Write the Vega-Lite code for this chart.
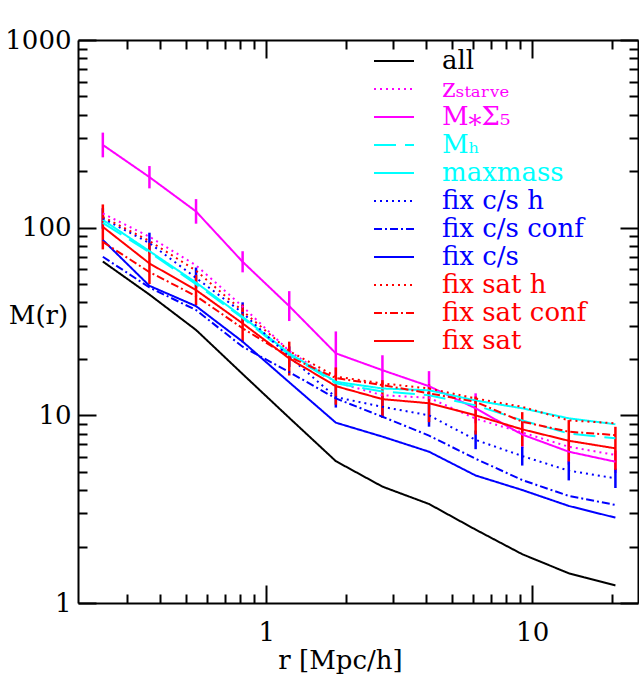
{
"$schema":"https://vega.github.io/schema/vega-lite/v6.json",
"width":560,"height":563,
"autosize":{"type":"none"},
"padding":{"left":78,"top":40,"right":1,"bottom":74},
"background":"white",
"config":{"view":{"stroke":null},"font":"DejaVu Serif",
"axis":{"grid":false,"domainColor":"black","domainWidth":2,"tickColor":"black","tickWidth":2,"labelColor":"black","titleColor":"black","labelFont":"DejaVu Serif","titleFont":"DejaVu Serif","labelFontSize":26,"titleFontSize":26,"titleFontWeight":"normal","labelFlush":false,"labelOverlap":false}},
"datasets":{
"curves":[
{"series":"all","r":0.243,"M":66},{"series":"all","r":0.3638,"M":44},{"series":"all","r":0.5446,"M":28.5},{"series":"all","r":0.8152,"M":16.6},{"series":"all","r":1.2204,"M":9.7},{"series":"all","r":1.827,"M":5.7},{"series":"all","r":2.735,"M":4.17},{"series":"all","r":4.094,"M":3.37},{"series":"all","r":6.129,"M":2.46},{"series":"all","r":9.175,"M":1.82},{"series":"all","r":13.73,"M":1.44},{"series":"all","r":20.56,"M":1.24},
{"series":"z_starve","r":0.243,"M":119},{"series":"z_starve","r":0.3638,"M":89.5},{"series":"z_starve","r":0.5446,"M":63},{"series":"z_starve","r":0.8152,"M":38},{"series":"z_starve","r":1.2204,"M":22},{"series":"z_starve","r":1.827,"M":15},{"series":"z_starve","r":2.735,"M":12.8},{"series":"z_starve","r":4.094,"M":12.4},{"series":"z_starve","r":6.129,"M":9.6},{"series":"z_starve","r":9.175,"M":8.1},{"series":"z_starve","r":13.73,"M":6.8},{"series":"z_starve","r":20.56,"M":6.15},
{"series":"MSigma5","r":0.243,"M":276},{"series":"MSigma5","r":0.3638,"M":186},{"series":"MSigma5","r":0.5446,"M":122},{"series":"MSigma5","r":0.8152,"M":65.8},{"series":"MSigma5","r":1.2204,"M":38.2},{"series":"MSigma5","r":1.827,"M":21.4},{"series":"MSigma5","r":2.735,"M":17.4},{"series":"MSigma5","r":4.094,"M":14.3},{"series":"MSigma5","r":6.129,"M":10.9},{"series":"MSigma5","r":9.175,"M":7.9},{"series":"MSigma5","r":13.73,"M":6.4},{"series":"MSigma5","r":20.56,"M":5.66},
{"series":"M_h","r":0.243,"M":106},{"series":"M_h","r":0.3638,"M":74},{"series":"M_h","r":0.5446,"M":50},{"series":"M_h","r":0.8152,"M":33},{"series":"M_h","r":1.2204,"M":21},{"series":"M_h","r":1.827,"M":14.8},{"series":"M_h","r":2.735,"M":13.4},{"series":"M_h","r":4.094,"M":12.8},{"series":"M_h","r":6.129,"M":11.3},{"series":"M_h","r":9.175,"M":9.4},{"series":"M_h","r":13.73,"M":8.0},{"series":"M_h","r":20.56,"M":7.54},
{"series":"maxmass","r":0.243,"M":110},{"series":"maxmass","r":0.3638,"M":75},{"series":"maxmass","r":0.5446,"M":51},{"series":"maxmass","r":0.8152,"M":33.5},{"series":"maxmass","r":1.2204,"M":21.4},{"series":"maxmass","r":1.827,"M":15.1},{"series":"maxmass","r":2.735,"M":13.9},{"series":"maxmass","r":4.094,"M":13.6},{"series":"maxmass","r":6.129,"M":12.0},{"series":"maxmass","r":9.175,"M":10.9},{"series":"maxmass","r":13.73,"M":9.64},{"series":"maxmass","r":20.56,"M":8.96},
{"series":"fix c/s h","r":0.243,"M":112},{"series":"fix c/s h","r":0.3638,"M":82.8},{"series":"fix c/s h","r":0.5446,"M":54},{"series":"fix c/s h","r":0.8152,"M":35.2},{"series":"fix c/s h","r":1.2204,"M":20.5},{"series":"fix c/s h","r":1.827,"M":12.5},{"series":"fix c/s h","r":2.735,"M":11.1},{"series":"fix c/s h","r":4.094,"M":10},{"series":"fix c/s h","r":6.129,"M":7.4},{"series":"fix c/s h","r":9.175,"M":6.07},{"series":"fix c/s h","r":13.73,"M":5.07},{"series":"fix c/s h","r":20.56,"M":4.62},
{"series":"fix c/s conf","r":0.243,"M":70},{"series":"fix c/s conf","r":0.3638,"M":48},{"series":"fix c/s conf","r":0.5446,"M":36.4},{"series":"fix c/s conf","r":0.8152,"M":23.2},{"series":"fix c/s conf","r":1.2204,"M":17},{"series":"fix c/s conf","r":1.827,"M":12.3},{"series":"fix c/s conf","r":2.735,"M":9.83},{"series":"fix c/s conf","r":4.094,"M":7.8},{"series":"fix c/s conf","r":6.129,"M":5.87},{"series":"fix c/s conf","r":9.175,"M":4.52},{"series":"fix c/s conf","r":13.73,"M":3.72},{"series":"fix c/s conf","r":20.56,"M":3.33},
{"series":"fix c/s","r":0.243,"M":86},{"series":"fix c/s","r":0.3638,"M":49},{"series":"fix c/s","r":0.5446,"M":38.2},{"series":"fix c/s","r":0.8152,"M":24.7},{"series":"fix c/s","r":1.2204,"M":15},{"series":"fix c/s","r":1.827,"M":9.14},{"series":"fix c/s","r":2.735,"M":7.7},{"series":"fix c/s","r":4.094,"M":6.4},{"series":"fix c/s","r":6.129,"M":4.78},{"series":"fix c/s","r":9.175,"M":4.0},{"series":"fix c/s","r":13.73,"M":3.29},{"series":"fix c/s","r":20.56,"M":2.85},
{"series":"fix sat h","r":0.243,"M":114},{"series":"fix sat h","r":0.3638,"M":85},{"series":"fix sat h","r":0.5446,"M":59},{"series":"fix sat h","r":0.8152,"M":36},{"series":"fix sat h","r":1.2204,"M":22},{"series":"fix sat h","r":1.827,"M":16.1},{"series":"fix sat h","r":2.735,"M":14.8},{"series":"fix sat h","r":4.094,"M":13.9},{"series":"fix sat h","r":6.129,"M":12.3},{"series":"fix sat h","r":9.175,"M":11.1},{"series":"fix sat h","r":13.73,"M":9.4},{"series":"fix sat h","r":20.56,"M":9.07},
{"series":"fix sat conf","r":0.243,"M":84},{"series":"fix sat conf","r":0.3638,"M":58},{"series":"fix sat conf","r":0.5446,"M":43.2},{"series":"fix sat conf","r":0.8152,"M":29.1},{"series":"fix sat conf","r":1.2204,"M":20.5},{"series":"fix sat conf","r":1.827,"M":15.8},{"series":"fix sat conf","r":2.735,"M":14.5},{"series":"fix sat conf","r":4.094,"M":13.1},{"series":"fix sat conf","r":6.129,"M":11.8},{"series":"fix sat conf","r":9.175,"M":9.25},{"series":"fix sat conf","r":13.73,"M":8.18},{"series":"fix sat conf","r":20.56,"M":7.85},
{"series":"fix sat","r":0.243,"M":101},{"series":"fix sat","r":0.3638,"M":64.5},{"series":"fix sat","r":0.5446,"M":46.5},{"series":"fix sat","r":0.8152,"M":30.9},{"series":"fix sat","r":1.2204,"M":20.1},{"series":"fix sat","r":1.827,"M":14.3},{"series":"fix sat","r":2.735,"M":12.2},{"series":"fix sat","r":4.094,"M":11.6},{"series":"fix sat","r":6.129,"M":10},{"series":"fix sat","r":9.175,"M":8.42},{"series":"fix sat","r":13.73,"M":7.32},{"series":"fix sat","r":20.56,"M":6.67}
],
"errs":[
{"series":"MSigma5","r":0.243,"lo":237,"hi":321},{"series":"MSigma5","r":0.3638,"lo":162,"hi":213},{"series":"MSigma5","r":0.5446,"lo":105,"hi":142},{"series":"MSigma5","r":0.8152,"lo":57.8,"hi":74.9},{"series":"MSigma5","r":1.2204,"lo":31.8,"hi":45.9},{"series":"MSigma5","r":1.827,"lo":16.3,"hi":28.0},{"series":"MSigma5","r":2.735,"lo":14.5,"hi":20.9},{"series":"MSigma5","r":4.094,"lo":11.9,"hi":17.2},{"series":"MSigma5","r":6.129,"lo":9.07,"hi":13.1},{"series":"MSigma5","r":9.175,"lo":6.69,"hi":9.32},{"series":"MSigma5","r":13.73,"lo":5.46,"hi":7.5},{"series":"MSigma5","r":20.56,"lo":4.93,"hi":6.5},
{"series":"fix c/s h","r":0.243,"lo":98.7,"hi":127},{"series":"fix c/s h","r":0.3638,"lo":73,"hi":94},{"series":"fix c/s h","r":0.5446,"lo":47.6,"hi":61.3},{"series":"fix c/s h","r":0.8152,"lo":31,"hi":40},{"series":"fix c/s h","r":1.2204,"lo":18.1,"hi":23.3},{"series":"fix c/s h","r":1.827,"lo":11.0,"hi":14.2},{"series":"fix c/s h","r":2.735,"lo":9.7,"hi":12.7},{"series":"fix c/s h","r":4.094,"lo":8.7,"hi":11.5},{"series":"fix c/s h","r":6.129,"lo":6.6,"hi":8.3},{"series":"fix c/s h","r":9.175,"lo":5.4,"hi":6.8},{"series":"fix c/s h","r":13.73,"lo":4.5,"hi":5.7},{"series":"fix c/s h","r":20.56,"lo":4.1,"hi":5.2},
{"series":"fix sat","r":0.243,"lo":76.6,"hi":133},{"series":"fix sat","r":0.3638,"lo":50.1,"hi":83.1},{"series":"fix sat","r":0.5446,"lo":38.7,"hi":55.9},{"series":"fix sat","r":0.8152,"lo":24.5,"hi":38.9},{"series":"fix sat","r":1.2204,"lo":16.3,"hi":24.7},{"series":"fix sat","r":1.827,"lo":11.4,"hi":18.0},{"series":"fix sat","r":2.735,"lo":9.7,"hi":15.4},{"series":"fix sat","r":4.094,"lo":9.2,"hi":14.6},{"series":"fix sat","r":6.129,"lo":7.9,"hi":12.6},{"series":"fix sat","r":9.175,"lo":6.85,"hi":10.4},{"series":"fix sat","r":13.73,"lo":5.68,"hi":9.43},{"series":"fix sat","r":20.56,"lo":5.12,"hi":8.69}
]},
"resolve":{"axis":{"x":"independent","y":"independent"}},
"layer":[
{"data":{"name":"errs"},
"mark":{"type":"rule","strokeWidth":2.5},
"encoding":{
"x":{"field":"r","type":"quantitative","scale":{"type":"log","domain":[0.196,25],"nice":false},"axis":{"orient":"bottom","values":[1,10],"labels":false,"domain":false,"tickSize":-18,"title":null}},
"y":{"field":"lo","type":"quantitative","scale":{"type":"log","domain":[1,1000],"nice":false},"axis":{"orient":"left","values":[1,10,100,1000],"labels":false,"domain":false,"tickSize":-18,"title":null}},
"y2":{"field":"hi"},
"color":{"field":"series","type":"nominal"}}},
{"data":{"name":"curves"},
"mark":{"type":"line","strokeWidth":2},
"encoding":{
"x":{"field":"r","type":"quantitative","scale":{"type":"log","domain":[0.196,25],"nice":false},"axis":{"orient":"bottom","values":[1,10],"format":"d","ticks":false,"domain":true,"labelBaseline":"alphabetic","labelPadding":37,"title":"r [Mpc/h]","titleX":262,"titleY":65,"titleBaseline":"alphabetic","titleAlign":"center","titleAnchor":null}},
"y":{"field":"M","type":"quantitative","scale":{"type":"log","domain":[1,1000],"nice":false},"axis":{"orient":"left","values":[1,10,100,1000],"format":"d","ticks":false,"domain":true,"labelPadding":7,"labelAngle":0,"labelAlign":"right","labelBaseline":"middle","title":"M(r)","titleAngle":0,"titleX":-40,"titleY":275,"titleAlign":"center","titleBaseline":"middle"}},
"color":{"field":"series","type":"nominal",
"scale":{"domain":["all","z_starve","MSigma5","M_h","maxmass","fix c/s h","fix c/s conf","fix c/s","fix sat h","fix sat conf","fix sat"],
"range":["#000000","#ff00ff","#ff00ff","#00ffff","#00ffff","#0000ff","#0000ff","#0000ff","#ff0000","#ff0000","#ff0000"]},
"legend":{"title":null,"orient":"none","legendX":303,"legendY":8,"symbolType":"M-2,0H2","symbolSize":400,"symbolStrokeWidth":2,"labelFont":"DejaVu Serif","labelFontSize":26,"labelOffset":35,"rowPadding":2,"padding":0,"labelLimit":400,
"labelExpr":"datum.label == 'z_starve' ? 'zₛₜₐᵣᵥₑ' : datum.label == 'MSigma5' ? 'M⁎Σ₅' : datum.label == 'M_h' ? 'Mₕ' : datum.label",
"encode":{"labels":{"update":{"fill":{"scale":"color","field":"value"}}}}}},
"strokeDash":{"field":"series","type":"nominal",
"scale":{"domain":["all","z_starve","MSigma5","M_h","maxmass","fix c/s h","fix c/s conf","fix c/s","fix sat h","fix sat conf","fix sat"],
"range":[[1,0],[2,4],[1,0],[22,9],[1,0],[2,4],[8,3,2,3],[1,0],[2,4],[8,3,2,3],[1,0]]}}}},
{"data":{"name":"curves"},
"mark":{"type":"point","opacity":0},
"encoding":{
"x":{"field":"r","type":"quantitative","scale":{"type":"log","domain":[0.196,25],"nice":false},"axis":{"orient":"bottom","values":[0.3,0.4,0.5,0.6,0.7,0.8,0.9,2,3,4,5,6,7,8,9,20],"labels":false,"domain":false,"tickSize":-9,"title":null}},
"y":{"field":"M","type":"quantitative","scale":{"type":"log","domain":[1,1000],"nice":false},"axis":{"orient":"left","values":[2,3,4,5,6,7,8,9,20,30,40,50,60,70,80,90,200,300,400,500,600,700,800,900],"labels":false,"domain":false,"tickSize":-9,"title":null}}}},
{"data":{"name":"curves"},
"mark":{"type":"point","opacity":0},
"encoding":{
"x":{"field":"r","type":"quantitative","scale":{"type":"log","domain":[0.196,25],"nice":false},"axis":{"orient":"top","values":[1,10],"labels":false,"domain":true,"tickSize":-18,"title":null}},
"y":{"field":"M","type":"quantitative","scale":{"type":"log","domain":[1,1000],"nice":false},"axis":{"orient":"right","values":[1,10,100,1000],"labels":false,"domain":true,"tickSize":-18,"title":null}}}},
{"data":{"name":"curves"},
"mark":{"type":"point","opacity":0},
"encoding":{
"x":{"field":"r","type":"quantitative","scale":{"type":"log","domain":[0.196,25],"nice":false},"axis":{"orient":"top","values":[0.3,0.4,0.5,0.6,0.7,0.8,0.9,2,3,4,5,6,7,8,9,20],"labels":false,"domain":false,"tickSize":-9,"title":null}},
"y":{"field":"M","type":"quantitative","scale":{"type":"log","domain":[1,1000],"nice":false},"axis":{"orient":"right","values":[2,3,4,5,6,7,8,9,20,30,40,50,60,70,80,90,200,300,400,500,600,700,800,900],"labels":false,"domain":false,"tickSize":-9,"title":null}}}}
]
}
